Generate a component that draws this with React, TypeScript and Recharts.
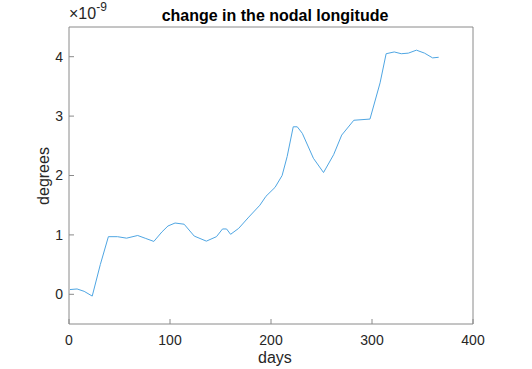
import React from 'react';
import { LineChart, Line, XAxis, YAxis } from 'recharts';

// values in units of 1e-9 degrees
const days = [1, 8, 15, 23, 31, 39, 48, 57, 68, 76, 84, 92, 98, 105, 114, 124, 136, 146, 152, 156, 160, 168, 178, 189, 195, 204, 211, 216, 222, 226, 231, 242, 252, 262, 270, 282, 298, 308, 314, 322, 329, 336, 344, 352, 360, 366];
const nodal = [0.08, 0.09, 0.05, -0.03, 0.5, 0.97, 0.97, 0.945, 0.99, 0.94, 0.89, 1.05, 1.15, 1.2, 1.18, 0.98, 0.895, 0.97, 1.1, 1.1, 1.01, 1.11, 1.3, 1.5, 1.65, 1.8, 2.0, 2.32, 2.82, 2.82, 2.71, 2.29, 2.05, 2.35, 2.68, 2.93, 2.95, 3.56, 4.05, 4.08, 4.05, 4.06, 4.11, 4.06, 3.98, 3.99];

const xTicks = [0, 100, 200, 300, 400];
const yTicks = [0, 1, 2, 3, 4];

const data = days.map((d, i) => ({ day: d, value: nodal[i] }));

const axisColor = '#8a8a8a';
const font = 'Liberation Sans, Arial, sans-serif';
const tickStyle = { fill: '#262626', fontSize: 14, fontFamily: font };

const App: React.FC = () => {
  return (
    <div style={{ position: 'absolute', left: 0, top: 0, width: 532, height: 369, background: '#fff' }}>
      <LineChart
        width={532}
        height={369}
        data={data}
        margin={{ top: 26, right: 58, bottom: 0, left: 0 }}
      >
        <XAxis
          dataKey="day"
          type="number"
          domain={[0, 400]}
          ticks={xTicks}
          allowDataOverflow
          stroke={axisColor}
          tickSize={-5}
          tickMargin={16}
          tick={tickStyle}
          height={45}
        />
        <XAxis
          xAxisId="top"
          orientation="top"
          dataKey="day"
          type="number"
          domain={[0, 400]}
          ticks={xTicks}
          stroke={axisColor}
          tickSize={-5}
          tick={false}
          height={1}
        />
        <YAxis
          type="number"
          domain={[-0.5, 4.5]}
          ticks={yTicks}
          allowDataOverflow
          stroke={axisColor}
          tickSize={-5}
          tickMargin={11}
          tick={tickStyle}
          width={69}
        />
        <YAxis
          yAxisId="right"
          orientation="right"
          type="number"
          domain={[-0.5, 4.5]}
          ticks={yTicks}
          stroke={axisColor}
          tickSize={-5}
          tick={false}
          width={1}
        />
        <Line
          type="linear"
          dataKey="value"
          stroke="#4fa6e3"
          strokeWidth={1}
          dot={false}
          isAnimationActive={false}
        />
      </LineChart>
      <div style={{ position: 'absolute', left: 0, top: 7, width: 550, textAlign: 'center', fontFamily: font, fontWeight: 'bold', fontSize: 16, color: '#000' }}>
        change in the nodal longitude
      </div>
      <div style={{ position: 'absolute', left: 69, top: 5, fontFamily: font, fontSize: 16, color: '#262626' }}>
        ×10<sup style={{ fontSize: 12, verticalAlign: 'top', position: 'relative', top: -5 }}>-9</sup>
      </div>
      <div style={{ position: 'absolute', left: 258, top: 349, fontFamily: font, fontSize: 16, color: '#262626' }}>
        days
      </div>
      <div style={{ position: 'absolute', left: 44, top: 176, transform: 'translate(-50%, -50%) rotate(-90deg)', fontFamily: font, fontSize: 16, color: '#262626', whiteSpace: 'nowrap' }}>
        degrees
      </div>
    </div>
  );
};

export default App;
